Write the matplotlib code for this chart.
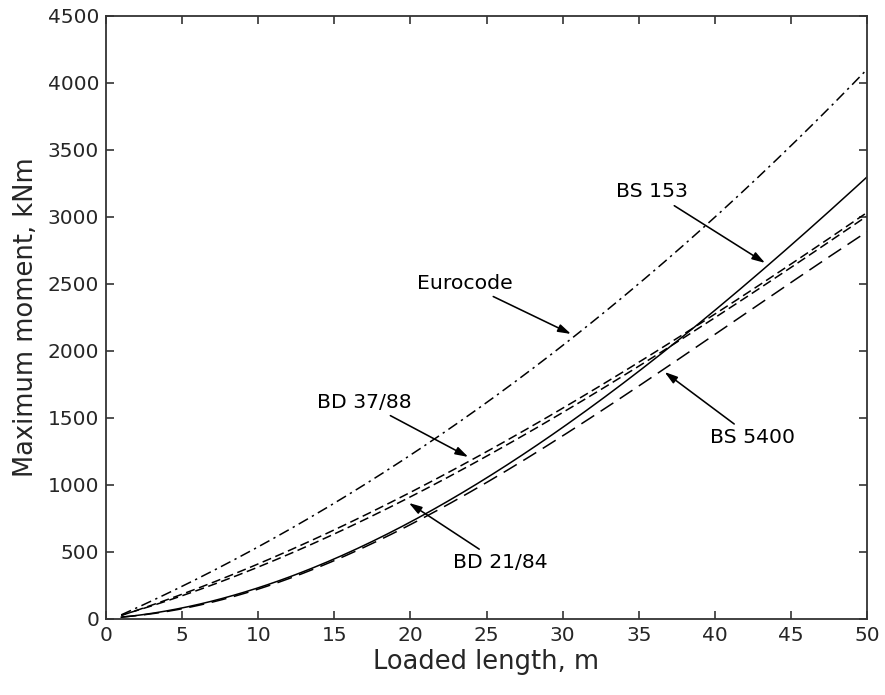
import matplotlib
matplotlib.use('Agg')
import matplotlib.pyplot as plt
import numpy as np

# loaded length (m)
length = [1, 5, 10, 15, 20, 25, 30, 35, 40, 45, 50]

# maximum moment (kNm)
eurocode = [25, 252, 540, 863, 1220, 1613, 2040, 2503, 3000, 3533, 4100]
bs153 = [15, 87, 216, 452, 731, 1057, 1428, 1845, 2300, 2790, 3300]
bd3788 = [20, 190, 415, 670, 940, 1240, 1570, 1920, 2280, 2650, 3030]
bd2184 = [20, 180, 395, 640, 905, 1205, 1535, 1890, 2255, 2630, 3000]
bs5400 = [15, 85, 210, 430, 700, 1030, 1380, 1740, 2110, 2500, 2900]

# label text, arrow tip (L, M), text centre (L, M)
labels = ['BS 153', 'Eurocode', 'BD 37/88', 'BD 21/84', 'BS 5400']
tips = [(43.3, 2657), (30.55, 2127), (23.8, 1209), (19.9, 866), (36.7, 1843)]
textpos = [(35.9, 3187), (23.6, 2507), (17.0, 1619), (25.9, 418), (42.5, 1351)]

txt = '#262626'
fig = plt.figure(figsize=(8.85, 6.95), dpi=100)
ax = fig.add_axes([0.1198, 0.1094, 0.8599, 0.8676])

# smooth the read-off points for drawing
xs = np.linspace(1, 50, 200)
def smooth(y):
    c = np.polyfit(length, y, 3)
    return np.polyval(c, xs)

lw = 1.1
ax.plot(xs, smooth(eurocode), color='k', lw=lw, ls=(0, (7, 3, 1.5, 3)))
ax.plot(xs, smooth(bs153), color='k', lw=lw, ls='-')
ax.plot(xs, smooth(bd3788), color='k', lw=lw, ls=(0, (6, 3)))
ax.plot(xs, smooth(bd2184), color='k', lw=lw, ls=(3, (6, 3)))
ax.plot(xs, smooth(bs5400), color='k', lw=lw, ls=(0, (10, 5)))

for lab, tip, tp in zip(labels, tips, textpos):
    ax.annotate(lab, xy=tip, xytext=tp, ha='center', va='center',
                fontsize=14.7, color='k',
                arrowprops=dict(arrowstyle='-|>,head_length=0.55,head_width=0.17',
                                color='k', lw=1.15, shrinkA=2, shrinkB=0,
                                mutation_scale=14))

ax.set_xlim(0, 50)
ax.set_ylim(0, 4500)
ax.set_xticks(np.arange(0, 51, 5))
ax.set_yticks(np.arange(0, 4501, 500))
ax.tick_params(direction='in', top=True, right=True, length=6, width=1.2,
               labelsize=14.5, colors='#333333', labelcolor=txt, pad=5)
for s in ax.spines.values():
    s.set_color('#333333')
    s.set_linewidth(1.3)
ax.set_xlabel('Loaded length, m', fontsize=18.5, color=txt, labelpad=3)
ax.set_ylabel('Maximum moment, kNm', fontsize=18.5, color=txt, labelpad=6)

fig.savefig('out.png', dpi=100)
